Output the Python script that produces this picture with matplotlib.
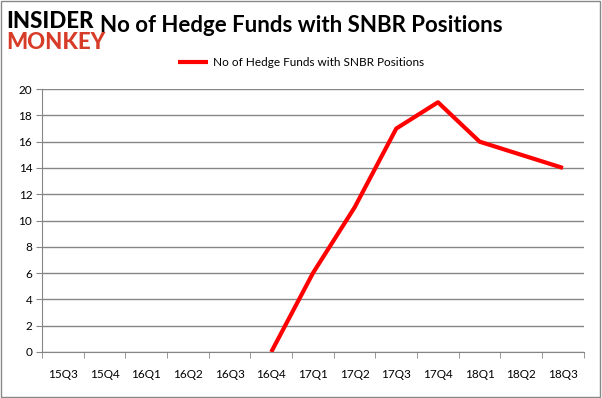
import matplotlib
matplotlib.use("Agg")
import matplotlib.pyplot as plt
import numpy as np

quarters = ['15Q3', '15Q4', '16Q1', '16Q2', '16Q3', '16Q4', '17Q1',
            '17Q2', '17Q3', '17Q4', '18Q1', '18Q2', '18Q3']
# no data before 16Q4
funds = [np.nan, np.nan, np.nan, np.nan, np.nan, 0, 6, 11, 17, 19, 16, 15, 14]
series_name = 'No of Hedge Funds with SNBR Positions'
yticks = list(range(0, 21, 2))

plt.rcParams['font.family'] = ['Lato', 'DejaVu Sans']

fig = plt.figure(figsize=(6.02, 3.98), dpi=100)
ax = fig.add_axes([0.0698, 0.1156, 0.9, 0.6605])

x = np.arange(len(quarters))
line, = ax.plot(x, funds, color='#ff0000', linewidth=3, solid_capstyle='butt',
                label=series_name)

ax.set_xlim(-0.5, len(quarters) - 0.5)
ax.set_ylim(0, 20)
ax.set_yticks(yticks)
ax.set_yticklabels([str(v) for v in yticks], fontsize=8.5)
ax.set_xticks(x)
ax.set_xticklabels(quarters, fontsize=8.5)
ax.set_xticks(np.arange(-0.5, len(quarters)), minor=True)
ax.tick_params(axis='x', which='major', length=0, pad=12)
ax.tick_params(axis='x', which='minor', length=4, color='#868686')
ax.tick_params(axis='y', length=4, color='#868686', pad=3)
ax.grid(axis='y', color='#868686', linewidth=1)
ax.set_axisbelow(True)
for s in ['top', 'right']:
    ax.spines[s].set_visible(False)
ax.spines['left'].set_color('#868686')
ax.spines['bottom'].set_color('#868686')

fig.text(0.5, 0.935, 'No of Hedge Funds with SNBR Positions', ha='center',
         va='center', fontsize=16, fontweight='bold')
fig.legend(handles=[line], loc='center', bbox_to_anchor=(0.5, 0.842),
           frameon=False, fontsize=8.5, handlelength=2.5, handletextpad=0.4)

# logo
fig.text(0.01, 0.945, 'INSIDER', fontsize=16, fontweight='black',
         color='black', va='center', ha='left')
fig.text(0.01, 0.893, 'MONKEY', fontsize=16, fontweight='black',
         color='#d63c27', va='center', ha='left')

# outer border
fig.patches.append(plt.Rectangle((0.002, 0.003), 0.995, 0.994, fill=False,
                                 edgecolor='#888888', linewidth=1,
                                 transform=fig.transFigure))

fig.savefig('out.png', dpi=100)
